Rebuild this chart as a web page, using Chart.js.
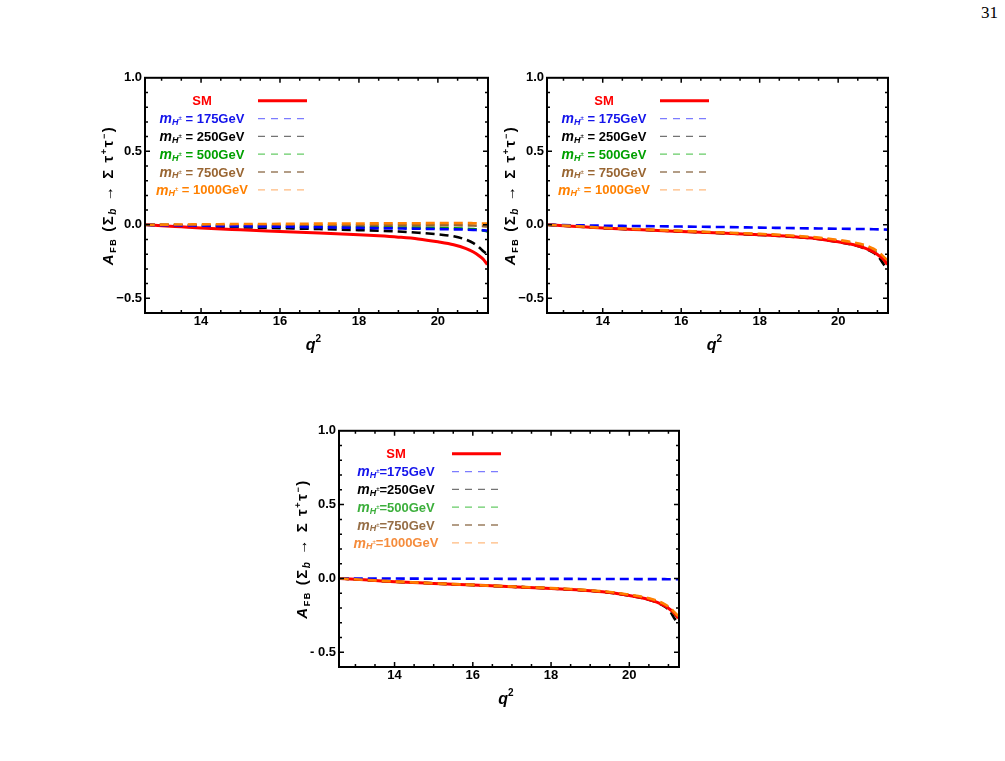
<!DOCTYPE html>
<html>
<head>
<meta charset="utf-8">
<script src="https://cdn.jsdelivr.net/npm/chart.js@4/dist/chart.umd.min.js"></script>
<style>
  html, body { margin: 0; padding: 0; background: #fff; }
  body { width: 1005px; height: 761px; position: relative; overflow: hidden; }
  canvas { position: absolute; }
  #pagenum { position: absolute; left: 981px; top: 3px; font: 17px "Liberation Serif", "Times New Roman", serif; color: #000; }
</style>
</head>
<body>
<div id="pagenum">31</div>
<canvas id="c1" width="413" height="301" style="left:85px;top:67px"></canvas>
<canvas id="c2" width="411" height="301" style="left:487px;top:67px"></canvas>
<canvas id="c3" width="410" height="302" style="left:279px;top:420px"></canvas>
<script>
// ---------------- data ----------------
const q2 = [12.6, 13, 13.5, 14, 15, 16, 17, 18, 18.5, 19, 19.5, 20, 20.4, 20.7, 20.9, 21.05, 21.15, 21.25];

// Standard Model A_FB (same in all three panels)
const smAfb = [0, -0.006, -0.014, -0.022, -0.034, -0.045, -0.056, -0.068, -0.075, -0.084, -0.096, -0.116, -0.136, -0.160, -0.185, -0.212, -0.235, -0.270];

// panel 1 (top-left)
const p1_175  = [0, -0.002, -0.004, -0.006, -0.010, -0.013, -0.017, -0.021, -0.023, -0.025, -0.027, -0.029, -0.031, -0.033, -0.035, -0.037, -0.038, -0.040];
const p1_250  = [0, -0.003, -0.007, -0.011, -0.017, -0.023, -0.029, -0.036, -0.040, -0.046, -0.054, -0.065, -0.078, -0.100, -0.125, -0.155, -0.180, -0.200];
const p1_500  = [0, -0.001, -0.003, -0.005, -0.008, -0.011, -0.014, -0.016, -0.017, -0.018, -0.019, -0.021, -0.023, -0.026, -0.029, -0.033, -0.038, -0.045];
const p1_750  = [0, 0.000, -0.001, -0.002, -0.003, -0.003, -0.003, -0.003, -0.002, -0.002, -0.002, -0.002, -0.003, -0.004, -0.005, -0.007, -0.009, -0.012];
const p1_1000 = [0, 0.001, 0.002, 0.003, 0.005, 0.006, 0.008, 0.009, 0.010, 0.011, 0.011, 0.012, 0.012, 0.012, 0.011, 0.010, 0.009, 0.008];

// panel 2 (top-right)
const p2_175  = [0, -0.002, -0.004, -0.006, -0.009, -0.012, -0.015, -0.019, -0.021, -0.023, -0.025, -0.027, -0.028, -0.029, -0.030, -0.031, -0.032, -0.033];
const p2_250  = [0, -0.006, -0.014, -0.022, -0.034, -0.045, -0.057, -0.069, -0.076, -0.085, -0.097, -0.117, -0.138, -0.163, -0.190, -0.225, -0.265, -0.300];
const p2_500  = [0, -0.006, -0.013, -0.021, -0.033, -0.044, -0.055, -0.066, -0.073, -0.082, -0.093, -0.111, -0.130, -0.153, -0.177, -0.205, -0.235, -0.270];
const p2_750  = [0, -0.005, -0.013, -0.021, -0.032, -0.043, -0.054, -0.065, -0.071, -0.080, -0.091, -0.108, -0.126, -0.148, -0.172, -0.198, -0.230, -0.260];
const p2_1000 = [0, -0.005, -0.012, -0.020, -0.031, -0.041, -0.052, -0.062, -0.068, -0.077, -0.087, -0.103, -0.120, -0.140, -0.163, -0.190, -0.215, -0.240];

// panel 3 (bottom)
const p3_175  = [0, 0.000, -0.001, -0.001, -0.002, -0.002, -0.003, -0.003, -0.003, -0.004, -0.004, -0.004, -0.005, -0.005, -0.005, -0.006, -0.006, -0.006];
const p3_250  = [0, -0.006, -0.014, -0.022, -0.034, -0.045, -0.056, -0.068, -0.075, -0.084, -0.096, -0.116, -0.137, -0.162, -0.190, -0.225, -0.270, -0.305];
const p3_500  = [0, -0.006, -0.014, -0.022, -0.034, -0.045, -0.056, -0.067, -0.074, -0.083, -0.095, -0.114, -0.134, -0.157, -0.182, -0.210, -0.240, -0.270];
const p3_750  = [0, -0.006, -0.014, -0.022, -0.034, -0.045, -0.056, -0.067, -0.074, -0.083, -0.094, -0.113, -0.132, -0.155, -0.180, -0.207, -0.235, -0.265];
const p3_1000 = [0, -0.006, -0.013, -0.021, -0.033, -0.044, -0.055, -0.066, -0.072, -0.081, -0.092, -0.110, -0.128, -0.150, -0.174, -0.200, -0.228, -0.255];

// axes / ticks / labels
const xTicks = [14, 16, 18, 20];
const yTicks = [-0.5, 0.0, 0.5, 1.0];
const yTickLabelsTop = ['\u22120.5', '0.0', '0.5', '1.0'];
const yTickLabelsBottom = ['- 0.5', '0.0', '0.5', '1.0'];
const massLabels = ['175', '250', '500', '750', '1000'];
const smLabel = 'SM';

// ---------------- styling ----------------
const FF = '"Liberation Sans", Arial, Helvetica, sans-serif';
const COL = {
  sm: 'rgb(255,0,0)',
  m175: 'rgb(0,0,255)',
  m250: 'rgb(0,0,0)',
  m500: 'rgb(0,160,0)',
  m750: 'rgb(153,102,51)',
  m1000: 'rgb(255,128,0)'
};
const massColors = [COL.m175, COL.m250, COL.m500, COL.m750, COL.m1000];
const legendLineColors = ['rgba(80,80,255,0.75)', 'rgba(0,0,0,0.55)', 'rgba(0,170,0,0.6)', 'rgba(120,80,40,0.75)', 'rgba(255,140,40,0.6)'];

function pts(arr) { return q2.map((x, i) => ({ x: x, y: arr[i] })); }

function drawRuns(ctx, runs, x, y, spacing) {
  ctx.letterSpacing = (spacing || 0) + 'px';
  let total = 0;
  runs.forEach(r => { ctx.font = r.f; total += ctx.measureText(r.t).width; });
  let cx = x - total / 2;
  runs.forEach(r => {
    ctx.font = r.f;
    ctx.fillStyle = r.c || ctx.fillStyle;
    ctx.fillText(r.t, cx, y + (r.dy || 0));
    cx += ctx.measureText(r.t).width;
  });
  ctx.letterSpacing = '0px';
}

const decorPlugin = {
  id: 'decor',
  afterDraw(chart) {
    const ctx = chart.ctx;
    const a = chart.chartArea;
    const xs = chart.scales.x, ys = chart.scales.y;
    const opt = chart.options.plugins.decor;
    ctx.save();
    // frame
    ctx.strokeStyle = '#000';
    ctx.lineWidth = 2;
    ctx.strokeRect(a.left, a.top, a.right - a.left, a.bottom - a.top);
    // inward ticks on all sides
    ctx.lineWidth = 1.5;
    ctx.beginPath();
    for (let k = 26; k <= 42; k++) {
      const v = k / 2;
      const px = xs.getPixelForValue(v);
      if (px <= a.left + 1 || px >= a.right - 1) continue;
      const len = (k % 4 === 0) ? 5 : 3;
      ctx.moveTo(px, a.bottom); ctx.lineTo(px, a.bottom - len);
      ctx.moveTo(px, a.top); ctx.lineTo(px, a.top + len);
    }
    for (let k = -5; k <= 9; k++) {
      const v = k / 10;
      const py = ys.getPixelForValue(v);
      if (py <= a.top + 1 || py >= a.bottom - 1) continue;
      const len = (k % 5 === 0) ? 5 : 3;
      ctx.moveTo(a.left, py); ctx.lineTo(a.left + len, py);
      ctx.moveTo(a.right, py); ctx.lineTo(a.right - len, py);
    }
    ctx.stroke();

    // legend
    const cxText = a.left + 57;
    const lx0 = a.left + 113, lx1 = a.left + 162;
    const rowY = i => a.top + 23 + i * 17.8;
    ctx.textBaseline = 'middle';
    ctx.fillStyle = COL.sm;
    drawRuns(ctx, [{ t: smLabel, f: 'bold 13px ' + FF, c: COL.sm }], cxText, rowY(0) + 1);
    ctx.setLineDash([]);
    ctx.strokeStyle = COL.sm; ctx.lineWidth = 3;
    ctx.beginPath(); ctx.moveTo(lx0, rowY(0)); ctx.lineTo(lx1, rowY(0)); ctx.stroke();
    const eq = opt.compact ? '=' : ' = ';
    massLabels.forEach((m, i) => {
      const c = opt.textColors[i];
      const y = rowY(i + 1) + 1;
      drawRuns(ctx, [
        { t: 'm', f: 'italic bold 14px ' + FF, c: c },
        { t: 'H', f: 'italic bold 9px ' + FF, c: c, dy: 3 },
        { t: '\u00b1', f: 'bold 6px ' + FF, c: c, dy: -1 },
        { t: eq + m + 'GeV', f: 'bold 13px ' + FF, c: c }
      ], cxText, y);
      ctx.setLineDash([7, 6]);
      ctx.strokeStyle = legendLineColors[i];
      ctx.lineWidth = 1.3;
      ctx.beginPath(); ctx.moveTo(lx0, rowY(i + 1)); ctx.lineTo(lx1, rowY(i + 1)); ctx.stroke();
    });
    ctx.setLineDash([]);

    // x title q^2
    ctx.fillStyle = '#000';
    ctx.textBaseline = 'alphabetic';
    drawRuns(ctx, [
      { t: 'q', f: 'italic bold 16px ' + FF, c: '#000' },
      { t: '2', f: 'bold 10px ' + FF, c: '#000', dy: -8 }
    ], (a.left + a.right) / 2 - 3, a.bottom + 37);

    // y title
    ctx.save();
    ctx.translate(a.left - 37, (a.top + a.bottom) / 2);
    ctx.rotate(-Math.PI / 2);
    drawRuns(ctx, [
      { t: 'A', f: 'italic bold 15px ' + FF, c: '#000' },
      { t: 'FB', f: 'bold 9px ' + FF, c: '#000', dy: 3 },
      { t: ' (\u03a3', f: 'bold 15px ' + FF, c: '#000' },
      { t: 'b', f: 'italic bold 10px ' + FF, c: '#000', dy: 3 },
      { t: ' \u2192 \u03a3 \u03c4', f: 'bold 15px ' + FF, c: '#000' },
      { t: '+', f: 'bold 9px ' + FF, c: '#000', dy: -6 },
      { t: '\u03c4', f: 'bold 15px ' + FF, c: '#000' },
      { t: '\u2212', f: 'bold 9px ' + FF, c: '#000', dy: -6 },
      { t: ')', f: 'bold 15px ' + FF, c: '#000' }
    ], 0, 5, 1.6);
    ctx.restore();
    ctx.restore();
  }
};

function makeChart(id, series, yLabels, textColors, compact) {
  const dash = [9, 5];
  const datasets = [
    { label: smLabel, data: pts(smAfb), borderColor: COL.sm, borderWidth: 3, order: 2 },
    { label: massLabels[0], data: pts(series[0]), borderColor: massColors[0], borderWidth: 2.6, borderDash: dash, order: 1 },
    { label: massLabels[1], data: pts(series[1]), borderColor: massColors[1], borderWidth: 2.6, borderDash: dash, order: 5 },
    { label: massLabels[2], data: pts(series[2]), borderColor: massColors[2], borderWidth: 2.6, borderDash: dash, order: 4 },
    { label: massLabels[3], data: pts(series[3]), borderColor: massColors[3], borderWidth: 2.6, borderDash: dash, order: 3 },
    { label: massLabels[4], data: pts(series[4]), borderColor: massColors[4], borderWidth: 2.6, borderDash: dash, order: 0 }
  ];
  datasets.forEach(d => { d.pointRadius = 0; d.fill = false; d.cubicInterpolationMode = 'monotone'; });
  return new Chart(document.getElementById(id), {
    type: 'line',
    data: { datasets: datasets },
    options: {
      responsive: false,
      animation: false,
      layout: { padding: { left: 20, right: 10, top: 8, bottom: 35 } },
      plugins: {
        legend: { display: false },
        tooltip: { enabled: false },
        decor: { textColors: textColors, compact: compact }
      },
      scales: {
        x: {
          type: 'linear', min: 12.58, max: 21.27,
          grid: { display: false, drawTicks: false }, border: { display: false },
          afterBuildTicks: s => { s.ticks = xTicks.map(v => ({ value: v })); },
          afterFit: s => { s.height = 20; },
          ticks: { autoSkip: false, maxRotation: 0, padding: 1, color: '#000', font: { family: FF, size: 13, weight: 'bold' },
                   callback: v => String(v) }
        },
        y: {
          type: 'linear', min: -0.6, max: 1.0,
          grid: { display: false, drawTicks: false }, border: { display: false },
          afterBuildTicks: s => { s.ticks = yTicks.map(v => ({ value: v })); },
          afterFit: s => { s.width = 40; },
          ticks: { autoSkip: false, padding: 3, color: '#000', font: { family: FF, size: 13, weight: 'bold' },
                   callback: v => { const i = yTicks.findIndex(t => Math.abs(t - v) < 1e-9); return i >= 0 ? yLabels[i] : ''; } }
        }
      }
    },
    plugins: [decorPlugin]
  });
}

const textColorsTop = ['rgb(20,20,235)', 'rgb(0,0,0)', 'rgb(0,160,0)', 'rgb(153,102,51)', 'rgb(255,128,0)'];
const textColorsBottom = ['rgb(20,20,235)', 'rgb(0,0,0)', 'rgb(60,175,60)', 'rgb(150,110,70)', 'rgb(245,140,60)'];

makeChart('c1', [p1_175, p1_250, p1_500, p1_750, p1_1000], yTickLabelsTop, textColorsTop, false);
makeChart('c2', [p2_175, p2_250, p2_500, p2_750, p2_1000], yTickLabelsTop, textColorsTop, false);
makeChart('c3', [p3_175, p3_250, p3_500, p3_750, p3_1000], yTickLabelsBottom, textColorsBottom, true);
</script>
</body>
</html>
